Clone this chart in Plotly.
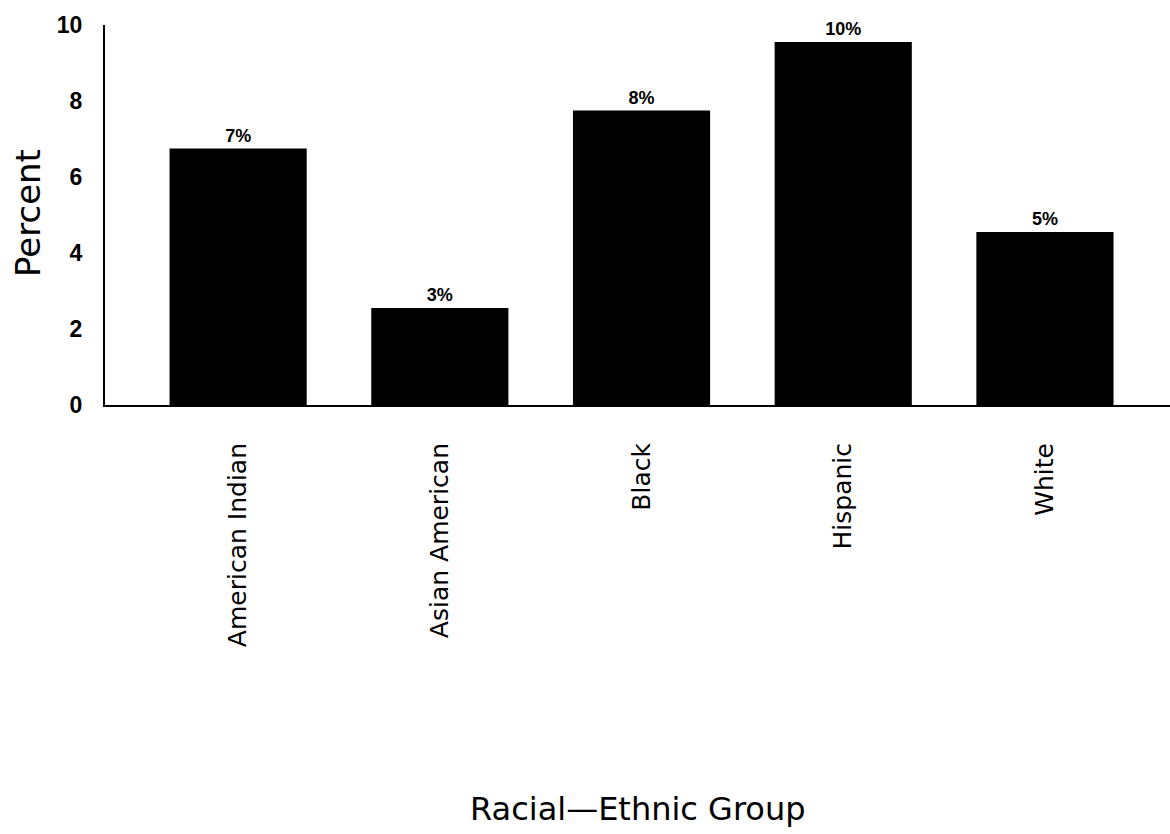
import plotly.graph_objects as go

categories = ["American Indian", "Asian American", "Black", "Hispanic", "White"]
values = [6.75, 2.55, 7.75, 9.55, 4.55]
bar_labels = ["7%", "3%", "8%", "10%", "5%"]
y_ticks = [0, 2, 4, 6, 8, 10]

fig = go.Figure()
fig.add_trace(go.Bar(
    x=categories,
    y=values,
    text=bar_labels,
    textposition="outside",
    cliponaxis=False,
    textfont=dict(family="Liberation Sans", size=18, color="black", weight="bold"),
    marker=dict(color="black", line=dict(width=0)),
    width=0.68,
))

fig.update_layout(
    width=1170, height=834,
    margin=dict(l=105, r=0, t=25, b=429),
    plot_bgcolor="white", paper_bgcolor="white",
    showlegend=False,
    xaxis=dict(
        range=[-0.66, 4.62],
        showline=True, linecolor="black", linewidth=2,
        ticks="", tickangle=-90, ticklabelstandoff=26,
        tickfont=dict(family="DejaVu Sans", size=25, color="black"),
        showgrid=False, zeroline=False,
    ),
    yaxis=dict(
        range=[0, 10],
        tickvals=y_ticks,
        showline=True, linecolor="black", linewidth=2,
        ticks="", ticklabelstandoff=16,
        tickfont=dict(family="Liberation Sans", size=23, color="black", weight="bold"),
        showgrid=False, zeroline=False,
    ),
    annotations=[
        dict(text="Percent", xref="paper", yref="paper",
             x=(28 - 105) / 1065, y=(405 - 213) / 380, textangle=-90,
             showarrow=False, xanchor="center", yanchor="middle",
             font=dict(family="DejaVu Sans", size=34, color="black")),
        dict(text="Racial\u2014Ethnic Group", xref="paper", yref="paper",
             x=(638 - 105) / 1065, y=(405 - 809) / 380,
             showarrow=False, xanchor="center", yanchor="middle",
             font=dict(family="DejaVu Sans", size=32, color="black")),
    ],
)

fig.write_html("out.html")
